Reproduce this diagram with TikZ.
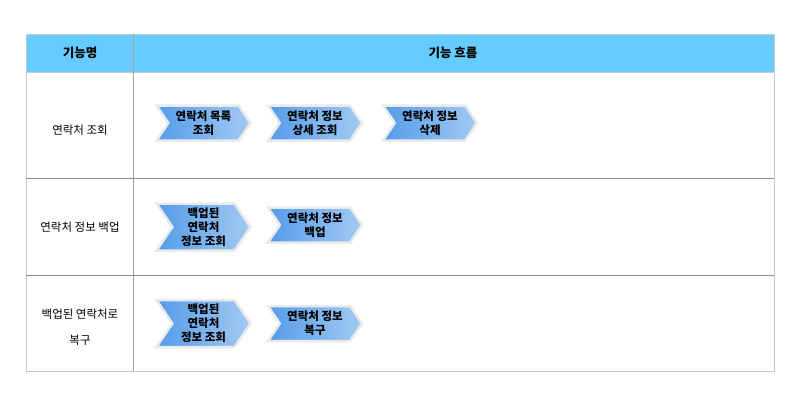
\documentclass[tikz,border=0pt]{standalone}
\usepackage{fontspec}
\setmainfont{Noto Sans CJK KR}
\usetikzlibrary{shapes.symbols}
\definecolor{headblue}{HTML}{66CCFF}
\definecolor{chevleft}{HTML}{559CE9}
\definecolor{chevright}{HTML}{A2CAF3}
\definecolor{chevrim}{HTML}{EAEAEA}
\definecolor{rowline}{HTML}{8C8C8C}
\definecolor{frameline}{HTML}{C8C8C8}

\begin{document}
\begin{tikzpicture}[x=1pt,y=-1pt,
  chev/.style={signal,signal to=east,signal from=west,signal pointer angle=112,
    draw=chevrim,line width=2.5pt,left color=chevleft,right color=chevright,
    minimum width=94pt,minimum height=35pt,inner sep=0pt,align=center,
    font=\fontsize{11.5}{14}\selectfont\bfseries},
  tallchev/.style={chev,minimum height=47pt},
  label/.style={align=center,font=\fontsize{11.5}{26}\selectfont}]
\useasboundingbox[fill=white] (0,0) rectangle (800,400);
\fill[headblue] (26,34) rectangle (774,72);
\draw[frameline] (26,34) rectangle (774,371);
\draw[frameline] (26,72) -- (774,72);
\draw[rowline] (26,178) -- (774,178);
\draw[rowline] (26,275) -- (774,275);
\draw[frameline!80!black] (133,34) -- (133,371);
\node (hname) [font=\fontsize{12.5}{14}\selectfont\bfseries] at (80,53) {기능명};
\node (hflow) [font=\fontsize{12.5}{14}\selectfont\bfseries] at (453,53) {기능 흐름};
\node (lview) [label] at (80,130) {연락처 조회};
\node (lbackup) [label] at (80,227) {연락처 정보 백업};
\node (lrestore) [label] at (80,327) {백업된 연락처로\\복구};
\node (list) [chev] at (203.5,123) {연락처 목록\\조회};
\node (detail) [chev] at (315,123) {연락처 정보\\상세 조회};
\node (delete) [chev] at (430,123) {연락처 정보\\삭제};
\node (bquery) [tallchev] at (203.5,227) {백업된\\연락처\\정보 조회};
\node (backup) [chev] at (315,225) {연락처 정보\\백업};
\node (rquery) [tallchev] at (203.5,323.5) {백업된\\연락처\\정보 조회};
\node (restore) [chev] at (315,323.5) {연락처 정보\\복구};
\end{tikzpicture}
\end{document}
